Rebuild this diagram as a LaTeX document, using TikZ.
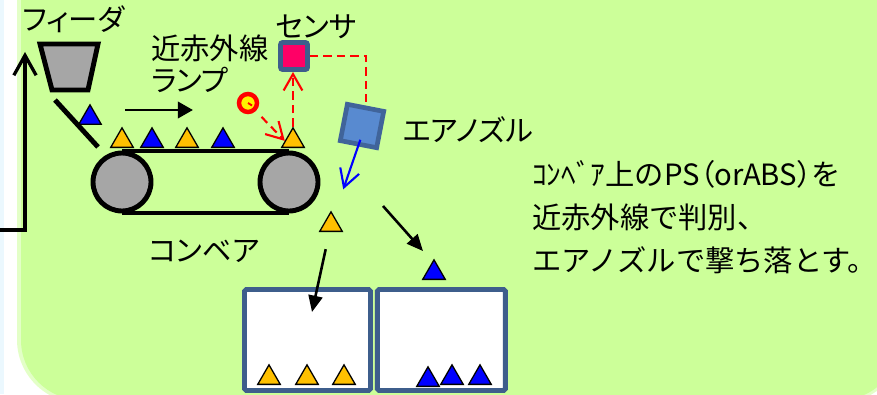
\documentclass[tikz,border=0pt]{standalone}
\usepackage{fontspec}
\setmainfont{Noto Sans CJK JP}
\newfontfamily\jpprop{Noto Sans CJK JP}[RawFeature=+palt]
\usetikzlibrary{shapes,arrows.meta,positioning}

\definecolor{bggreen}{RGB}{204,255,153}
\definecolor{pellety}{RGB}{255,192,0}
\definecolor{frameblue}{RGB}{62,94,140}
\definecolor{nozzleblue}{RGB}{88,138,208}
\definecolor{nozzleedge}{RGB}{64,100,154}
\definecolor{sensorred}{RGB}{255,0,102}
\definecolor{rollergray}{RGB}{166,166,166}

\begin{document}
\begin{tikzpicture}[x=0.03cm, y=-0.03cm,
    jtext/.style={font=\jpprop\fontsize{25}{27.3}\selectfont, inner sep=0pt},
    note/.style={font=\fontsize{25}{36.7}\selectfont, inner sep=0pt, align=left},
    pellet/.style={regular polygon, regular polygon sides=3, draw, line width=1.1pt, inner sep=0pt, minimum size=0.78cm, anchor=south},
    ytri/.style={pellet, fill=pellety},
    btri/.style={pellet, fill=blue},
    roller/.style={circle, draw, line width=4.2pt, fill=rollergray, minimum size=1.74cm, inner sep=0pt},
    belt/.style={draw, line width=3.4pt},
    bin/.style={rectangle, draw=frameblue, line width=4.2pt, fill=white, rounded corners=1.5pt, minimum height=3.03cm},
    sensor/.style={rectangle, draw=frameblue, line width=4.2pt, fill=sensorred, rounded corners=2pt, minimum size=0.81cm},
    nozzle/.style={rectangle, draw=nozzleedge, line width=4pt, fill=nozzleblue, minimum size=1.11cm, rotate=-11},
    lampbulb/.style={circle, draw=red, line width=3.8pt, fill=yellow, minimum size=0.54cm, inner sep=0pt},
    sig/.style={draw=red, line width=1.8pt, dash pattern=on 7pt off 4.5pt},
    sigarr/.style={sig, -{Straight Barb[length=14pt, width=16pt]}},
    jet/.style={draw=blue, line width=1.8pt, -{Straight Barb[length=15pt, width=17pt]}},
    drop/.style={draw, line width=2.2pt, -{Triangle[length=14pt, width=12pt]}},
    move/.style={draw, line width=2.5pt, -{Triangle[length=13pt, width=14pt]}},
    ret/.style={draw, line width=2.8pt, -{Straight Barb[length=17pt, width=19pt]}}
]
    \useasboundingbox (0,0) rectangle (877,394);
    \clip (0,0) rectangle (877,394);

    % panel
    \fill[cyan!8] (0,0) rectangle (4,394);
    \fill[bggreen!55, rounded corners=1.9cm] (17,-60) rectangle (903,403);
    \fill[bggreen, rounded corners=1.8cm] (21,-60) rectangle (900,400);

    % return line up to the feeder
    \coordinate (retA) at (0,230);
    \coordinate (retB) at (25,52);
    \draw[ret] (retA) -| (retB);

    % feeder and chute
    \node[jtext, anchor=west] (feedlbl) at (22,19) {フィーダ};
    \draw[line width=4.2pt, fill=rollergray, line join=miter] (40,44) -- (98,44) -- (88,90) -- (52,90) -- cycle;
    \draw[line width=4.2pt] (55,100) -- (98,147);
    \node[btri] (c0) at (90,125) {};

    % lamp
    \node[jtext, anchor=west, align=left] (lamplbl) at (151,64) {近赤外線\\ランプ};
    \coordinate (dirA) at (125,110);
    \coordinate (dirB) at (193,110);
    \path[move] (dirA) -- (dirB);
    \node[lampbulb] (lamp) at (248,103) {};
    \draw[red, line width=1.6pt] (lamp.center) -- ++(4,2.5);

    % conveyor
    \node[roller] (rl) at (122,182) {};
    \node[roller] (rr) at (289,182) {};
    \path[belt] (rl.north) -- (rr.north);
    \path[belt] (rl.south) -- (rr.south);
    \node[jtext] (convlbl) at (204,251) {コンベア};

    \node[ytri] (p1) at (122,148) {};
    \node[btri] (p2) at (152,148) {};
    \node[ytri] (p3) at (187,148) {};
    \node[btri] (p4) at (223,148) {};
    \node[ytri] (p5) at (293,148) {};

    % sensor and air nozzle
    \node[sensor] (sens) at (294,56) {};
    \node[jtext] (senslbl) at (316,27) {センサ};
    \node[nozzle] (noz) at (362,126) {};
    \node[jtext, right=0.6cm of noz, anchor=west] (nozlbl) {エアノズル};

    \path[sig] (sens.east) -| (noz.north);
    \path[sigarr, shorten <=7pt] (lamp) -- (p5.west);
    \path[sigarr] (p5.north) -- (p5.north |- sens.south);

    % sorting
    \node[ytri] (fy) at (331,232) {};
    \node[btri] (fb) at (434,280) {};
    \path[jet, shorten <=-6pt, shorten >=24pt] (noz.south) -- (fy);

    \node[bin, minimum width=3.78cm] (binL) at (307.5,340) {};
    \node[bin, minimum width=3.84cm, right=0.06cm of binL] (binR) {};

    \coordinate (ydrop) at (312,312);
    \coordinate (kick) at (383,206);
    \path[drop, shorten <=15pt] (fy) -- (ydrop);
    \path[drop] (kick) -- ([shift={(-11,-7.5)}]fb.north);

    \node[ytri] (y1) at (269,385) {};
    \node[ytri] (y2) at (307,385) {};
    \node[ytri] (y3) at (344,385) {};
    \node[btri] (b2) at (452,385) {};
    \node[btri] (b1) at (428,387) {};
    \node[btri] (b3) at (480,385) {};

    % explanation
    \node[note, anchor=west] (expl) at (532,217) {ｺﾝﾍﾞｱ上のPS{\jpprop（}orABS{\jpprop）}を\\近赤外線で判別、\\エアノズルで撃ち落とす。};

\end{tikzpicture}
\end{document}
